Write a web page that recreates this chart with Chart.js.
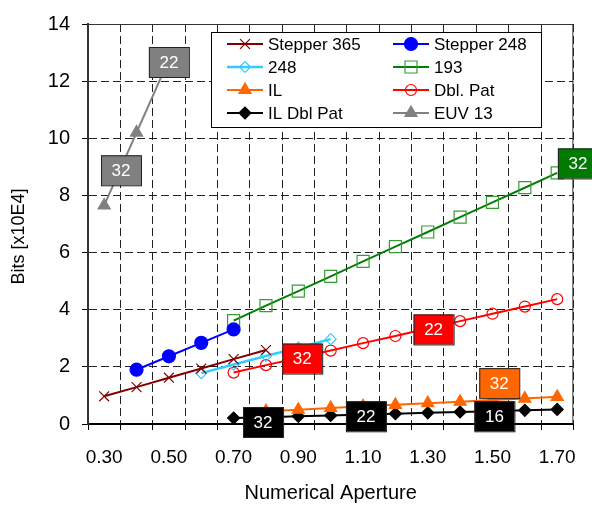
<!DOCTYPE html>
<html>
<head>
<meta charset="utf-8">
<script src="https://cdn.jsdelivr.net/npm/chart.js@4.4.0/dist/chart.umd.min.js"></script>
<style>
  html, body { margin: 0; padding: 0; background: #fff; }
</style>
</head>
<body>
<canvas id="chart" width="592" height="507"></canvas>
<script>
const apertures = ["0.30", "0.40", "0.50", "0.60", "0.70", "0.80", "0.90", "1.00",
                   "1.10", "1.20", "1.30", "1.40", "1.50", "1.60", "1.70"];

const stepper365 = [0.97, 1.29, 1.62, 1.94, 2.27, 2.59, null, null, null, null, null, null, null, null, null];
const stepper248 = [null, 1.90, 2.37, 2.84, 3.31, null, null, null, null, null, null, null, null, null, null];
const krf248 = [null, null, null, 1.78, 2.08, 2.38, 2.67, 2.97, null, null, null, null, null, null, null];
const arf193 = [null, null, null, null, 3.62, 4.14, 4.65, 5.17, 5.69, 6.21, 6.72, 7.24, 7.76, 8.27, 8.79];
const immersion = [null, null, null, null, null, 0.45, 0.50, 0.56, 0.62, 0.67, 0.73, 0.78, 0.84, 0.89, 0.95];
const dblPat = [null, null, null, null, 1.80, 2.06, 2.31, 2.57, 2.83, 3.08, 3.34, 3.60, 3.86, 4.11, 4.37];
const ilDblPat = [null, null, null, null, 0.21, 0.24, 0.27, 0.30, 0.33, 0.36, 0.39, 0.42, 0.45, 0.48, 0.51];
const euv13 = [7.65, 10.2, 12.75, null, null, null, null, null, null, null, null, null, null, null, null];

const yTicks = [0, 2, 4, 6, 8, 10, 12, 14];

// node labels (half pitch, nm) and where they sit, in data units
const noteText = ["22", "32", "32", "22", "32", "32", "32", "22", "16"];
const noteX = [2.0, 0.52, 14.64, 10.18, 6.12, 12.21, 4.91, 8.09, 12.06];
const noteY = [12.67, 8.88, 9.12, 3.31, 2.29, 1.43, 0.07, 0.27, 0.27];
const noteFill = ["#808080", "#808080", "#007a00", "#ff0000", "#ff0000", "#ff6600", "#000000", "#000000", "#000000"];

const FONT = "'Liberation Sans', Arial, sans-serif";

function series(label, data, color, extra) {
  return Object.assign({
    label: label,
    data: data,
    borderColor: color,
    backgroundColor: color,
    pointBackgroundColor: color,
    pointBorderColor: color,
    borderWidth: 2,
    pointBorderWidth: 1.2,
    tension: 0
  }, extra);
}

const datasets = [
  series("Stepper 365", stepper365, "#800000", { pointStyle: "crossRot", pointRadius: 7, pointBorderWidth: 1.2 }),
  series("Stepper 248", stepper248, "#0000ff", { pointStyle: "circle", pointRadius: 6.5 }),
  series("248", krf248, "#33ccff", { pointStyle: "rectRot", pointRadius: 5.5, borderWidth: 2.5, pointBackgroundColor: "rgba(0,0,0,0)" }),
  series("193", arf193, "#008000", { pointStyle: "rect", pointRadius: 8.5, pointBorderColor: "#3a9a3a", pointBackgroundColor: "rgba(0,0,0,0)" }),
  series("IL", immersion, "#ff6600", { pointStyle: "triangle", pointRadius: 7 }),
  series("Dbl. Pat", dblPat, "#ff0000", { pointStyle: "circle", pointRadius: 5.5, pointBackgroundColor: "rgba(0,0,0,0)" }),
  series("IL Dbl Pat", ilDblPat, "#000000", { pointStyle: "rectRot", pointRadius: 6 }),
  series("EUV 13", euv13, "#808080", { pointStyle: "triangle", pointRadius: 7 })
];

// two-column boxed legend, drawn from the datasets
const boxLegend = {
  id: "boxLegend",
  afterDraw(chart) {
    const ctx = chart.ctx;
    const bx = 211, by = 32, bw = 330, bh = 95;
    ctx.save();
    ctx.fillStyle = "#fff";
    ctx.fillRect(bx, by, bw, bh);
    ctx.strokeStyle = "#000";
    ctx.lineWidth = 1;
    ctx.strokeRect(bx + 0.5, by + 0.5, bw, bh);
    ctx.font = "17px " + FONT;
    ctx.textBaseline = "middle";
    chart.data.datasets.forEach((d, i) => {
      const col = i % 2, row = Math.floor(i / 2);
      const lx = 227 + col * 166;
      const ly = 44 + row * 23;
      ctx.strokeStyle = d.borderColor;
      ctx.lineWidth = d.borderWidth;
      ctx.beginPath();
      ctx.moveTo(lx, ly);
      ctx.lineTo(lx + 36, ly);
      ctx.stroke();
      ctx.fillStyle = d.pointBackgroundColor;
      ctx.strokeStyle = d.pointBorderColor;
      ctx.lineWidth = d.pointBorderWidth;
      Chart.helpers.drawPoint(ctx, {
        pointStyle: d.pointStyle, radius: d.pointRadius, rotation: 0, borderWidth: d.pointBorderWidth
      }, lx + 18, ly);
      ctx.fillStyle = "#000";
      ctx.fillText(d.label, lx + 41, ly + 1);
    });
    ctx.restore();
  }
};

const nodeNotes = {
  id: "nodeNotes",
  afterDraw(chart) {
    const ctx = chart.ctx;
    const xs = chart.scales.x, ys = chart.scales.y;
    ctx.save();
    ctx.font = "17px " + FONT;
    ctx.textAlign = "center";
    ctx.textBaseline = "middle";
    noteText.forEach((t, i) => {
      const cx = xs.getPixelForValue(noteX[i]);
      const cy = ys.getPixelForValue(noteY[i]);
      ctx.fillStyle = noteFill[i];
      ctx.fillRect(cx - 20, cy - 15, 40, 30);
      ctx.strokeStyle = "#222";
      ctx.lineWidth = 1;
      ctx.strokeRect(cx - 20 + 0.5, cy - 15 + 0.5, 40, 30);
      ctx.fillStyle = "#fff";
      ctx.fillText(t, cx, cy + 1);
    });
    ctx.restore();
  }
};

const frame = {
  id: "frame",
  afterDatasetsDraw(chart) {
    const a = chart.chartArea, ctx = chart.ctx;
    ctx.save();
    ctx.strokeStyle = "#333";
    ctx.lineWidth = 1;
    ctx.beginPath();
    ctx.moveTo(a.left, a.top + 0.5);
    ctx.lineTo(a.right - 0.5, a.top + 0.5);
    ctx.lineTo(a.right - 0.5, a.bottom);
    ctx.stroke();
    ctx.restore();
  }
};

new Chart(document.getElementById("chart"), {
  type: "line",
  data: { labels: apertures, datasets: datasets },
  options: {
    responsive: false,
    animation: false,
    devicePixelRatio: 1,
    layout: { padding: { top: 14, right: 8, left: 0, bottom: 0 } },
    plugins: { legend: { display: false }, tooltip: { enabled: false } },
    scales: {
      x: {
        type: "category",
        offset: true,
        afterFit: s => { s.height = 83; },
        grid: { offset: true, color: "#222", lineWidth: 1, tickLength: 6, tickColor: "#000", tickBorderDash: [] },
        border: { color: "#000", width: 2, dash: [8, 4] },
        ticks: {
          autoSkip: false, maxRotation: 0, padding: 16, color: "#000",
          font: { family: FONT, size: 19 },
          callback: function (v, i) { return i % 2 === 0 ? apertures[i] : ""; }
        },
        title: { display: true, text: "Numerical Aperture", color: "#000", font: { family: FONT, size: 20 }, padding: { top: 0, bottom: 2 } }
      },
      y: {
        min: yTicks[0],
        max: yTicks[yTicks.length - 1],
        afterFit: s => { s.width = 88; },
        afterBuildTicks: s => { s.ticks = yTicks.map(v => ({ value: v })); },
        grid: { color: "#222", lineWidth: 1, tickLength: 6, tickColor: "#000", tickBorderDash: [] },
        border: { color: "#333", width: 2, dash: [8, 4] },
        ticks: { padding: 12, color: "#000", font: { family: FONT, size: 20 } },
        title: { display: true, text: "Bits [x10E4]     ", color: "#000", font: { family: FONT, size: 18 }, padding: { top: 8, bottom: 0 } }
      }
    }
  },
  plugins: [frame, boxLegend, nodeNotes]
});
</script>
</body>
</html>
